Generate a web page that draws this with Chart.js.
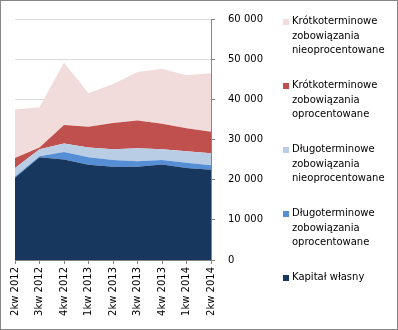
<!DOCTYPE html>
<html>
<head>
<meta charset="utf-8">
<script src="https://cdn.jsdelivr.net/npm/chart.js@4"></script>
<style>
  html, body { margin: 0; padding: 0; background: #fff; }
  canvas { display: block; }
</style>
</head>
<body>
<canvas id="chart" width="398" height="330"></canvas>
<script>
// quarters on the x axis
const quarters = ["2kw 2012", "3kw 2012", "4kw 2012", "1kw 2013", "2kw 2013", "3kw 2013", "4kw 2013", "1kw 2014", "2kw 2014"];

// series values (stacked, bottom to top)
const kapitalWlasny = [20500, 25600, 25000, 23700, 23200, 23200, 23800, 22900, 22500];
const dlugoOprocentowane = [300, 200, 1900, 1900, 1700, 1400, 1100, 1300, 1100];
const dlugoNieoprocentowane = [2100, 1800, 2100, 2400, 2700, 3200, 2700, 2900, 3000];
const krotkoOprocentowane = [2500, 400, 4600, 5200, 6500, 6900, 6300, 5700, 5300];
const krotkoNieoprocentowane = [12100, 10000, 15600, 8300, 9700, 12100, 13700, 13200, 14600];

const yTicks = [0, 10000, 20000, 30000, 40000, 50000, 60000];

const FONT = "DejaVu Sans";
const TEXT = "#000";
const AXIS = "#868686";

function area(label, data, color, fill) {
  return {
    label,
    data,
    backgroundColor: color,
    borderColor: color,
    borderWidth: 0,
    pointRadius: 0,
    tension: 0,
    fill,
  };
}

// -------------------------------
// Background, frame and legend
// -------------------------------
const sidePanel = {
  id: "sidePanel",
  beforeDraw(chart) {
    const ctx = chart.ctx;
    ctx.save();
    ctx.fillStyle = "#fff";
    ctx.fillRect(0, 0, chart.width, chart.height);
    ctx.restore();
  },
  afterDraw(chart) {
    const ctx = chart.ctx;
    ctx.save();
    ctx.strokeStyle = AXIS;
    ctx.lineWidth = 1;
    ctx.strokeRect(0.5, 0.5, chart.width - 1, chart.height - 1);

    ctx.font = "10px '" + FONT + "'";
    ctx.textBaseline = "middle";
    const maxWidth = 96;
    const x = 283;
    let y = 21.5;
    const sets = chart.data.datasets.slice().reverse();
    sets.forEach((ds) => {
      // wrap label into lines
      const words = ds.label.split(" ");
      const lines = [];
      let line = "";
      words.forEach((w) => {
        const test = line ? line + " " + w : w;
        if (line && ctx.measureText(test).width > maxWidth) {
          lines.push(line);
          line = w;
        } else {
          line = test;
        }
      });
      if (line) lines.push(line);

      ctx.fillStyle = ds.backgroundColor;
      ctx.fillRect(x, Math.round(y) - 3, 6, 6);
      ctx.fillStyle = TEXT;
      ctx.textAlign = "left";
      lines.forEach((l, i) => ctx.fillText(l, x + 9, y + i * 14.5));
      y += 64;
    });
    ctx.restore();
  },
};

new Chart(document.getElementById("chart").getContext("2d"), {
  type: "line",
  data: {
    labels: quarters,
    datasets: [
      area("Kapitał własny", kapitalWlasny, "#17375E", "origin"),
      area("Długoterminowe zobowiązania oprocentowane", dlugoOprocentowane, "#558ED5", "-1"),
      area("Długoterminowe zobowiązania nieoprocentowane", dlugoNieoprocentowane, "#B9CDE5", "-1"),
      area("Krótkoterminowe zobowiązania oprocentowane", krotkoOprocentowane, "#C0504D", "-1"),
      area("Krótkoterminowe zobowiązania nieoprocentowane", krotkoNieoprocentowane, "#F2DCDB", "-1"),
    ],
  },
  options: {
    responsive: false,
    animation: false,
    layout: { padding: { left: 15, top: 14, right: 127, bottom: 0 } },
    plugins: {
      legend: { display: false },
      tooltip: { enabled: false },
      filler: { propagate: false },
    },
    scales: {
      x: {
        offset: false,
        grid: { drawOnChartArea: false, tickLength: 4, tickColor: AXIS },
        border: { color: AXIS },
        ticks: {
          minRotation: 90,
          maxRotation: 90,
          autoSkip: false,
          padding: 3,
          color: TEXT,
          font: { family: FONT, size: 10 },
        },
        afterFit(scale) {
          scale.height = 70;
        },
      },
      y: {
        position: "right",
        stacked: true,
        min: 0,
        max: 60000,
        grid: { color: "#d9d9d9", tickLength: 4, tickColor: AXIS },
        border: { color: AXIS },
        afterBuildTicks(scale) {
          scale.ticks = yTicks.map((v) => ({ value: v }));
        },
        ticks: {
          padding: 13,
          color: TEXT,
          font: { family: FONT, size: 10 },
          callback: (v) => (v === 0 ? "0" : String(v).replace(/\B(?=(\d{3})+(?!\d))/g, " ")),
        },
        afterFit(scale) {
          scale.width = 60;
        },
      },
    },
  },
  plugins: [sidePanel],
});
</script>
</body>
</html>
